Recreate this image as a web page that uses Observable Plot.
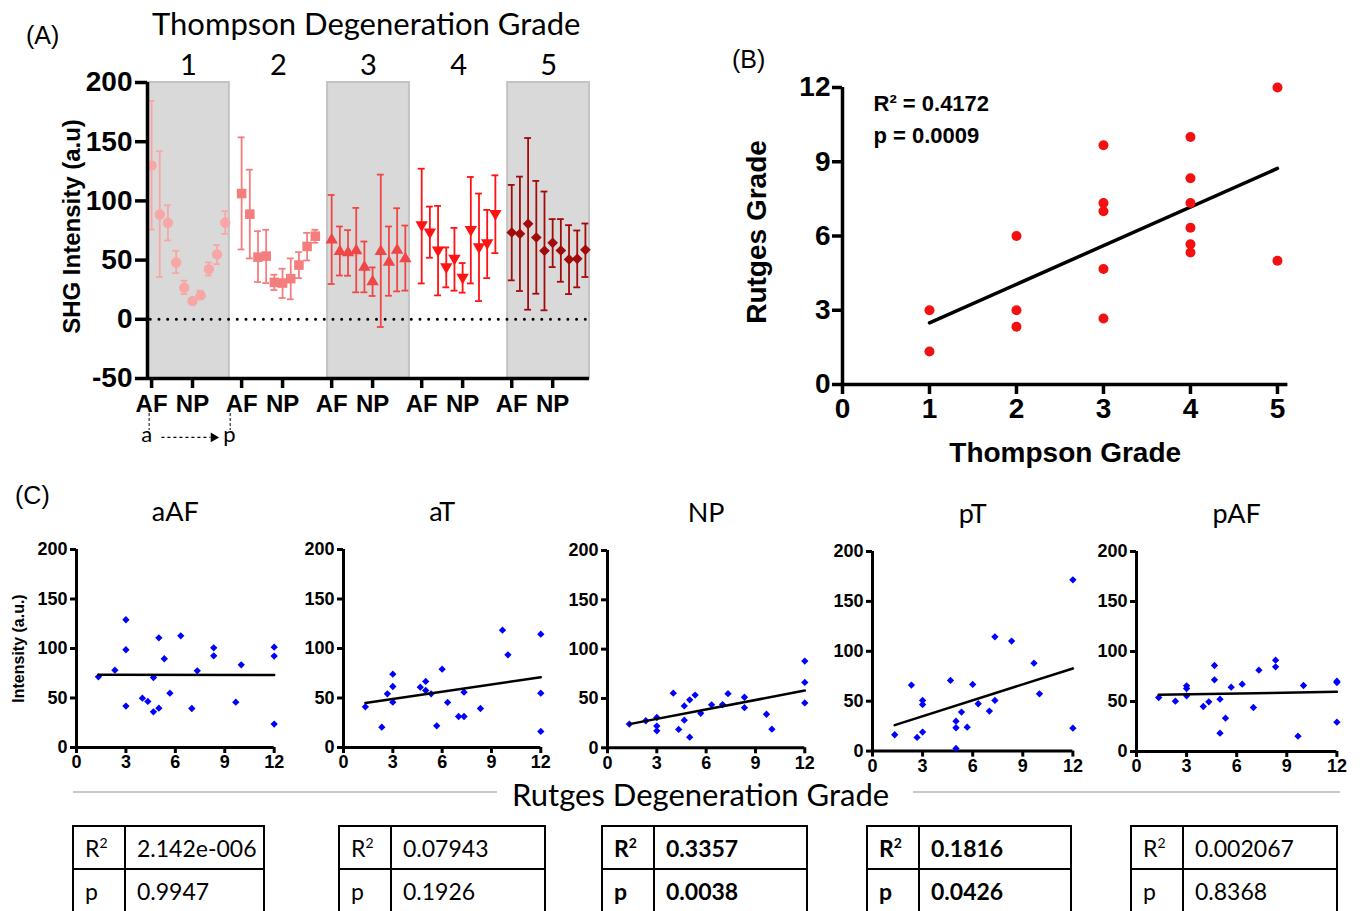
<!DOCTYPE html>
<html><head><meta charset="utf-8">
<script src="https://cdn.jsdelivr.net/npm/d3@7"></script>
<script src="https://cdn.jsdelivr.net/npm/@observablehq/plot@0.6"></script>
<style>
body{margin:0;background:#fff;}
#fig{position:relative;width:1362px;height:911px;overflow:hidden;background:#fff;}
.abs{position:absolute;white-space:nowrap;}
.arial{font-family:"Liberation Sans",Arial,sans-serif;}
.cal{font-family:Lato,sans-serif;}
table.st{border-collapse:collapse;position:absolute;font-family:Lato,sans-serif;font-size:23px;table-layout:fixed;}
table.st td{border:2px solid #000;height:41px;padding:0 0 0 11px;}
table.st sup{font-size:14px;vertical-align:9px;line-height:0;}
</style></head>
<body><div id="fig"></div>
<script>
// ---------- Panel A data (Thompson grade, a -> p positions) ----------
const grades = [1, 2, 3, 4, 5];
const g1Mean = [130, 88.5, 81.5, 48, 26.7, 15.4, 20.2, 42.4, 54.8, 81.7];
const g1Lo   = [75.8, 35.7, 66.6, 39, 21.3, 13, 17.1, 37, 46.6, 72.2];
const g1Hi   = [184.5, 141.9, 96.3, 57.9, 32.6, 18, 24.2, 48, 62.6, 91.3];
const g2Mean = [106.2, 88.8, 52.5, 53.4, 31.2, 30.6, 34.3, 45.8, 61.5, 70.2];
const g2Lo   = [59, 51.4, 31.5, 30.6, 24.7, 18, 16.9, 34.8, 49.7, 64.6];
const g2Hi   = [153.7, 126.4, 74.4, 75.6, 37.6, 42.7, 51.4, 56.7, 73, 75.6];
const g3Mean = [67.1, 57.3, 56.2, 57.9, 44.1, 31.7, 57.3, 48.3, 58.4, 51.1];
const g3Lo   = [29.8, 37, 36.8, 22.8, 22.8, 19.7, -6.5, 19.9, 23.6, 24.2];
const g3Hi   = [105, 78.4, 75.3, 94.1, 65.7, 43.8, 122.2, 78.4, 93.8, 79.2];
const g4Mean = [79.8, 73.6, 58.4, 44.4, 51.4, 35.4, 75.8, 61.2, 64.6, 89.3];
const g4Lo   = [30.3, 52, 20.2, 27, 24.2, 22.5, 30.3, 15.4, 34.8, 55.9];
const g4Hi   = [127.2, 95.2, 95.8, 60.7, 77.2, 47.5, 120.2, 106.2, 92.4, 121.6];
const g5Mean = [73.3, 72.2, 80.6, 69.1, 57.9, 64.6, 58.1, 50.6, 51.1, 58.7];
const g5Lo   = [32.9, 23.9, 8.1, 21.6, 7.6, 44.1, 31.7, 21.3, 27, 35.7];
const g5Hi   = [113.5, 120.5, 153.1, 116.9, 107.9, 84.6, 84.6, 79.5, 75, 80.9];
const shadedGrades = [1, 3, 5];
const aTickLabels = ["AF", "NP"];
const aYTicks = [-50, 0, 50, 100, 150, 200];

// ---------- Panel B data ----------
const thompson = [1, 1, 2, 2, 2, 3, 3, 3, 3, 3, 4, 4, 4, 4, 4, 4, 5, 5];
const rutges   = [3, 1.33, 6, 3, 2.33, 9.67, 7.33, 7, 4.67, 2.67, 10, 8.33, 7.33, 6.33, 5.67, 5.33, 12, 5];
// fitted line: value at Thompson grade 1 and 5
const bFitX = [1, 5];
const bFitY = [2.49, 8.73];
const bR2 = "R² = 0.4172";
const bP = "p = 0.0009";

// ---------- Panel C data ----------
const regions = ["aAF", "aT", "NP", "pT", "pAF"];
const aAFx = [1.33, 2.33, 3, 3, 3, 4, 4.33, 4.67, 4.67, 5, 5, 5.33, 5.67, 6.33, 7, 7.33, 8.33, 8.33, 9.67, 10, 12, 12, 12];
const aAFy = [71.4, 78.1, 129, 98.7, 41.8, 49.8, 46.5, 70.7, 36, 110.8, 39.7, 89.6, 54.9, 112.8, 39.4, 77.4, 100.7, 92.6, 45.8, 83.5, 101.3, 92.3, 23.6];
const aTx  = [1.33, 2.33, 2.67, 3, 3, 3, 4.67, 5, 5, 5.33, 5.67, 6, 6.33, 7, 7.33, 7.33, 8.33, 9.67, 10, 12, 12, 12];
const aTy  = [41.1, 20.5, 54.2, 74.1, 61.6, 45.8, 60.9, 66.7, 57.6, 54.2, 21.9, 79.1, 45.5, 31.3, 31.3, 55.9, 39.4, 118.5, 93.6, 114.5, 54.9, 16.2];
const NPx  = [1.33, 2.33, 3, 3, 3, 4, 4.33, 4.67, 4.67, 5, 5, 5.33, 5.67, 6.33, 7, 7.33, 8.33, 8.33, 9.67, 10, 12, 12, 12];
const NPy  = [24, 27.4, 30.7, 22, 17.2, 55.4, 18.6, 42.4, 28, 48.6, 10.8, 53.4, 35, 43.5, 43.8, 54.9, 51.2, 40.7, 34, 18.9, 87.9, 66.3, 45.5];
const pTx  = [1.33, 2.33, 2.67, 3, 3, 3, 4.67, 5, 5, 5, 5.33, 5.67, 6, 6.33, 7, 7.33, 7.33, 8.33, 9.67, 10, 12, 12];
const pTy  = [16.4, 66.1, 13.7, 50.8, 46.7, 19, 70.8, 30, 23.4, 2.7, 39.1, 24, 66.8, 47.4, 40.1, 114.5, 50.8, 110.2, 88.1, 57.4, 171.6, 23];
const pAFx = [1.33, 2.33, 3, 3, 3, 4, 4.33, 4.67, 4.67, 5, 5, 5.33, 5.67, 6.33, 7, 7.33, 8.33, 8.33, 9.67, 10, 12, 12, 12];
const pAFy = [54, 50.3, 65.7, 63, 55.7, 45, 49.7, 86, 71.7, 52.3, 18.3, 33.3, 64.3, 67.3, 44, 81.3, 91.3, 84.7, 15.3, 66, 70.3, 69, 29.3];
// fitted lines: value at x = 1.33 and x = 12
const fitX = [1.33, 12];
const fitAAF = [73.5, 73.3];
const fitAT  = [45, 71];
const fitNP  = [24, 58];
const fitPT  = [26, 82.8];
const fitPAF = [56.7, 59.7];
const cXTicks = [0, 3, 6, 9, 12];
const cYTicks = [0, 50, 100, 150, 200];
const r2Values = ["2.142e-006", "0.07943", "0.3357", "0.1816", "0.002067"];
const pValues  = ["0.9947", "0.1926", "0.0038", "0.0426", "0.8368"];
const significant = [false, false, true, true, false];

// ---------- helpers ----------
const fig = document.getElementById("fig");
function place(node, left, top) {
  const d = document.createElement("div");
  d.className = "abs";
  d.style.left = left + "px"; d.style.top = top + "px";
  d.appendChild(node); fig.appendChild(d); return d;
}
function html(str, left, top, cls, css) {
  const d = document.createElement("div");
  d.className = "abs " + (cls || "");
  d.style.cssText += `left:${left}px;top:${top}px;` + (css || "");
  d.innerHTML = str; fig.appendChild(d); return d;
}
const baseStyle = {background: "transparent", overflow: "visible", fontFamily: "'Liberation Sans', Arial, sans-serif", fontWeight: "bold"};
const fmt = d => String(d);

// ---------- Panel A ----------
const gMeans = [g1Mean, g2Mean, g3Mean, g4Mean, g5Mean];
const gLos = [g1Lo, g2Lo, g3Lo, g4Lo, g5Lo];
const gHis = [g1Hi, g2Hi, g3Hi, g4Hi, g5Hi];
const gColors = ["#f9a6a6", "#f47e7e", "#f04646", "#ff1212", "#a30a0a"];
const gSymbols = ["circle", "square", "triangle", "triangle", "diamond2"];
const gRotate = [0, 0, 0, 180, 0];
const gR = [5.2, 5.4, 4.6, 4.6, 4.8];
const aRows = [];
gMeans.forEach((means, g) => means.forEach((m, j) =>
  aRows.push({grade: grades[g], i: g * 11 + j, m, lo: gLos[g][j], hi: gHis[g][j]})));
const aTicks = [];
grades.forEach((g, k) => { aTicks.push(k * 11, k * 11 + 5); });
const annoArrow = [{x1: 1.2, x2: 7.2, y: -99.8}];

const aMarks = [
  Plot.rect(shadedGrades, {x1: g => (g - 1) * 11 - 0.5, x2: g => (g - 1) * 11 + 9.5, y1: -50, y2: 200, fill: "#d9d9d9", stroke: "#c3c3c3", strokeWidth: 2}),
  Plot.ruleY([0], {x1: -0.1, x2: 53.4, stroke: "#000", strokeWidth: 3, strokeDasharray: "0,8.7", strokeLinecap: "round"})
];
grades.forEach((g, k) => {
  const rows = aRows.filter(d => d.grade === g);
  const c = gColors[k];
  aMarks.push(
    Plot.ruleX(rows, {x: "i", y1: "lo", y2: "hi", stroke: c, strokeWidth: 1.8}),
    Plot.ruleY(rows, {y: "hi", x1: d => d.i - 0.42, x2: d => d.i + 0.42, stroke: c, strokeWidth: 1.8}),
    Plot.ruleY(rows, {y: "lo", x1: d => d.i - 0.42, x2: d => d.i + 0.42, stroke: c, strokeWidth: 1.8}),
    Plot.dot(rows, {x: "i", y: "m", fill: c, stroke: "none", symbol: gSymbols[k], r: gR[k], rotate: gRotate[k]})
  );
});
aMarks.push(
  Plot.ruleX([-0.5], {stroke: "#000", strokeWidth: 3.5}),
  Plot.ruleY([-50], {stroke: "#000", strokeWidth: 3.5}),
  Plot.axisY({ticks: aYTicks, tickFormat: fmt, tickSize: 12, tickPadding: 3, strokeWidth: 3.5, fontSize: 28, fontWeight: "bold", label: null}),
  Plot.axisX({ticks: aTicks, tickFormat: d => aTickLabels[aTicks.indexOf(d) % 2], tickSize: 10, tickPadding: 6, strokeWidth: 3.5, fontSize: 24, fontWeight: "bold", label: null}),
  Plot.text(grades, {x: g => (g - 1) * 11 + 4.5, frameAnchor: "top", lineAnchor: "middle", dy: -17, text: g => String(g), fontSize: 29, fontWeight: "normal", fontFamily: "Lato, sans-serif"}),
  Plot.text(["SHG Intensity (a.u)"], {frameAnchor: "left", textAnchor: "middle", lineAnchor: "middle", rotate: -90, dx: -75, dy: -4, fontSize: 24, fontWeight: "bold"}),
  // a -> p annotation
  Plot.ruleX([-0.3, 9.6], {y1: -79.6, y2: -93.9, stroke: "#000", strokeWidth: 1, strokeDasharray: "3,2"}),
  Plot.link(annoArrow, {x1: "x1", x2: "x2", y1: "y", y2: "y", stroke: "#000", strokeWidth: 1.3, strokeDasharray: "3,3"}),
  Plot.dot(annoArrow, {x: "x2", y: "y", symbol: "triangle", rotate: 90, r: 3.6, fill: "#000", stroke: "none", dx: 3}),
  Plot.text(["a", "p"], {x: [-0.6, 9.5], y: [-98, -98], fontSize: 22, fontWeight: "normal", fontFamily: "Lato, sans-serif"})
);
const chartA = Plot.plot({
  width: 600, height: 460, marginLeft: 147, marginRight: 11, marginTop: 82, marginBottom: 82,
  x: {domain: [-0.5, 53.5], axis: null},
  y: {domain: [-50, 200], axis: null},
  style: baseStyle,
  marks: aMarks
});
place(chartA, 0, 0);
html("Thompson Degeneration Grade", 152, 4, "cal", "font-size:31px;");
html("(A)", 26, 21, "arial", "font-size:25px;");

// ---------- Panel B ----------
const bRows = thompson.map((t, i) => ({t, r: rutges[i]}));
const bFit = bFitX.map((t, i) => ({t, r: bFitY[i]}));
const chartB = Plot.plot({
  width: 620, height: 440, marginLeft: 142, marginRight: 32.6, marginTop: 47, marginBottom: 96,
  x: {domain: [0, 5.12], axis: null},
  y: {domain: [0, 12], axis: null},
  style: baseStyle,
  marks: [
    Plot.ruleX([0], {stroke: "#000", strokeWidth: 3.5}),
    Plot.ruleY([0], {stroke: "#000", strokeWidth: 3.5}),
    Plot.axisY({ticks: [0, 3, 6, 9, 12], tickFormat: fmt, tickSize: 10, tickPadding: 2, strokeWidth: 3.5, fontSize: 28, fontWeight: "bold", label: null}),
    Plot.axisX({ticks: [0, 1, 2, 3, 4, 5], tickFormat: fmt, tickSize: 10, tickPadding: 4, strokeWidth: 3.5, fontSize: 28, fontWeight: "bold", label: null}),
    Plot.line(bFit, {x: "t", y: "r", stroke: "#000", strokeWidth: 3.5}),
    Plot.dot(bRows, {x: "t", y: "r", r: 5, fill: "#f21010", stroke: "none"}),
    Plot.text([bR2], {frameAnchor: "top-left", textAnchor: "start", lineAnchor: "middle", dx: 31, dy: 16, fontSize: 22, fontWeight: "bold"}),
    Plot.text([bP], {frameAnchor: "top-left", textAnchor: "start", lineAnchor: "middle", dx: 31, dy: 48, fontSize: 22, fontWeight: "bold"}),
    Plot.text(["Rutges Grade"], {frameAnchor: "left", textAnchor: "middle", lineAnchor: "middle", rotate: -90, dx: -85, dy: -4, fontSize: 28, fontWeight: "bold"}),
    Plot.text(["Thompson Grade"], {frameAnchor: "bottom", lineAnchor: "middle", dy: 69, fontSize: 28, fontWeight: "bold"})
  ]
});
place(chartB, 700, 40);
html("(B)", 732, 45, "arial", "font-size:25px;");

// ---------- Panel C ----------
const cGeom = [
  {x0: 76, x12: 273.7, y0: 747.3, y200: 549.3},
  {x0: 342.7, x12: 540, y0: 747.3, y200: 549.3},
  {x0: 606.7, x12: 804, y0: 747.3, y200: 550},
  {x0: 872.3, x12: 1072.7, y0: 750.3, y200: 550.7},
  {x0: 1136.3, x12: 1336.7, y0: 750.7, y200: 550.7}
];
const cXs = [aAFx, aTx, NPx, pTx, pAFx];
const cYs = [aAFy, aTy, NPy, pTy, pAFy];
const cFits = [fitAAF, fitAT, fitNP, fitPT, fitPAF];
regions.forEach((name, k) => {
  const g = cGeom[k];
  const rows = cXs[k].map((x, i) => ({x, y: cYs[k][i]}));
  const fitRows = fitX.map((x, i) => ({x, y: cFits[k][i]}));
  const mL = 70, mT = 55, mR = 20, mB = 40;
  const marks = [
    Plot.ruleX([0], {stroke: "#000", strokeWidth: 3}),
    Plot.ruleY([0], {stroke: "#000", strokeWidth: 3}),
    Plot.axisY({ticks: cYTicks, tickFormat: fmt, tickSize: 6, tickPadding: 3, strokeWidth: 3, fontSize: 18, fontWeight: "bold", label: null}),
    Plot.axisX({ticks: cXTicks, tickFormat: fmt, tickSize: 6, tickPadding: 2, strokeWidth: 3, fontSize: 18, fontWeight: "bold", label: null}),
    Plot.dot(rows, {x: "x", y: "y", symbol: "diamond2", r: 3.3, fill: "#0000ff", stroke: "none"}),
    Plot.line(fitRows, {x: "x", y: "y", stroke: "#000", strokeWidth: 2.5}),
    Plot.text([name], {frameAnchor: "top", lineAnchor: "middle", dy: -37, fontSize: 27, fontWeight: "normal", fontFamily: "Lato, sans-serif"})
  ];
  if (k === 0) marks.push(Plot.text(["Intensity (a.u.)"], {frameAnchor: "left", textAnchor: "middle", lineAnchor: "middle", rotate: -90, dx: -58, fontSize: 16, fontWeight: "bold"}));
  const ch = Plot.plot({
    width: mL + (g.x12 - g.x0) + mR, height: mT + (g.y0 - g.y200) + mB,
    marginLeft: mL, marginRight: mR, marginTop: mT, marginBottom: mB,
    x: {domain: [0, 12], axis: null}, y: {domain: [0, 200], axis: null},
    style: baseStyle, marks
  });
  place(ch, g.x0 - mL, g.y200 - mT);
});
html("(C)", 15, 481, "arial", "font-size:25px;");

// separator with x label
html("", 73, 791, "", "width:424px;height:0;border-top:2px solid #c8c8c8;");
html("", 913, 791, "", "width:427px;height:0;border-top:2px solid #c8c8c8;");
html("Rutges Degeneration Grade", 512, 780, "cal", "font-size:31px;line-height:29px;");

// tables
const tLeft = [72, 338, 601, 866, 1130];
const tWidth = [193, 208, 207, 206, 208];
regions.forEach((name, k) => {
  const t = document.createElement("table");
  t.className = "st";
  t.style.left = tLeft[k] + "px"; t.style.top = "825px"; t.style.width = tWidth[k] + "px";
  const w = significant[k] ? "bold" : "normal";
  t.innerHTML = `<colgroup><col style="width:52px"><col></colgroup>
    <tr style="font-weight:${w}"><td>R<sup>2</sup></td><td>${r2Values[k]}</td></tr>
    <tr style="font-weight:${w}"><td>p</td><td>${pValues[k]}</td></tr>`;
  fig.appendChild(t);
});
</script>
</body></html>
